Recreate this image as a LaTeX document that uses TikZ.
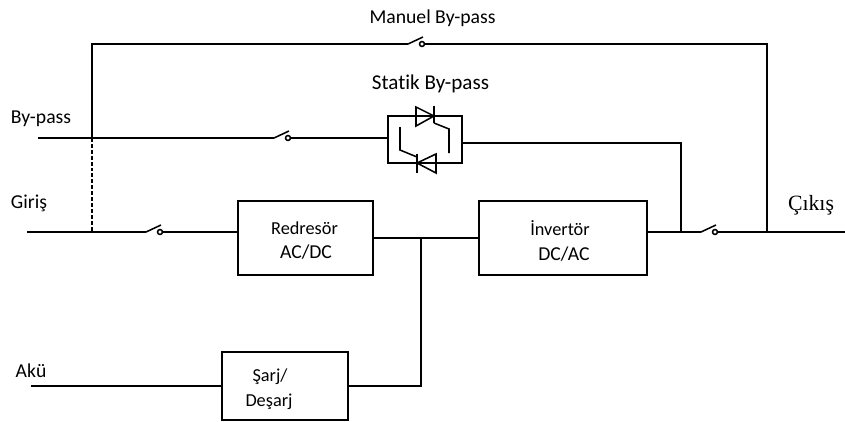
\documentclass[tikz,border=0pt]{standalone}
\usepackage{fontspec}
\setmainfont{Carlito}[RawFeature={-liga}]
\newfontfamily\serifcikis{Liberation Serif}
\usepackage{tikz}
\usetikzlibrary{positioning, calc}

\tikzset{
  wire/.style={line width=1.1pt, black},
  blockbox/.style={draw=black, line width=1.1pt, minimum width=135*0.025cm, minimum height=74*0.025cm, inner sep=0pt},
  lbl/.style={font=\fontsize{14}{16}\selectfont, inner sep=0pt},
  lblsmall/.style={font=\fontsize{13}{15}\selectfont, inner sep=0pt},
  contact/.style={circle, draw=black, line width=1.1pt, fill=white, minimum size=3.5pt, inner sep=0pt}
}

\begin{document}
\begin{tikzpicture}[x=0.025cm, y=-0.025cm]
  \useasboundingbox (0,0) rectangle (845,421);

  % Blocks
  \node[blockbox] (redresor) at (305.5,238) {};
  \node[blockbox, minimum width=168*0.025cm] (invertor) at (563,238) {};
  \node[blockbox, minimum width=126*0.025cm, minimum height=68*0.025cm] (sarj) at (285,386) {};
  \node[draw=black, line width=1.1pt, minimum width=74*0.025cm, minimum height=47*0.025cm, inner sep=0pt] (statik) at (425,139.5) {};

  % Labels
  \node[lbl] (manuel) at (432.5,18) {Manuel By-pass};
  \node[lbl, font=\fontsize{15}{17}\selectfont] (statiklbl) at (430.5,84) {Statik By-pass};
  \node[lbl] (bypasslbl) at (41,119) {By-pass};
  \node[lbl] (girislbl) at (29,203) {Giriş};
  \node[lbl] (akulbl) at (31,371) {Akü};
  \node[lbl, font=\serifcikis\fontsize{15.5}{17}\selectfont] (cikislbl) at (811,205) {Çıkış};
  \node[lblsmall] (redresorlbl) at (304.5,228) {Redresör};
  \node[lbl] (acdclbl) at (306,252) {AC/DC};
  \node[lblsmall] (invertorlbl) at (560,228) {İnvertör};
  \node[lbl] (dcaclbl) at (564,254) {DC/AC};
  \node[lblsmall] (sarjlbl) at (270,377) {Şarj/};
  \node[lblsmall] (desarjlbl) at (269,402) {Deşarj};

  % Junctions and free ends
  \coordinate (tl) at (92,44);
  \coordinate (tr) at (767,44);
  \coordinate (byin) at (38,138);
  \coordinate (bydrop) at (92,138);
  \coordinate (girin) at (27,232);
  \coordinate (girdrop) at (92,232);
  \coordinate (out) at (845,232);
  \coordinate (outj) at (767,232);
  \coordinate (stj) at (681,232);
  \coordinate (dcj) at (421,238);
  \coordinate (akuin) at (31,386);

  % Switches
  \foreach \nm/\x/\y in {sa/422/44, sb/288/138, sc/160/232, sd/715/232}{
    \node[contact] (\nm) at (\x,\y) {};
    \coordinate (\nm in) at (\x-14,\y);
    \draw[wire] (\nm in) -- ++(15,-7);
  }

  % Wiring
  \draw[wire] (bydrop) -- (tl) -- (sain);
  \draw[wire] (sa) -- (tr) -- (outj);
  \draw[wire, dash pattern=on 2.8pt off 1.4pt] (bydrop) -- (girdrop);
  \draw[wire] (byin) -- (sbin);
  \draw[wire] (sb) -- (sb -| statik.west);
  \draw[wire] (girin) -- (scin);
  \draw[wire] (sc) -- (sc -| redresor.west);
  \draw[wire] (redresor.east) -- (invertor.west);
  \draw[wire] (akuin) -- (sarj.west);
  \draw[wire] (sarj.east) -- (sarj.east -| dcj) -- (dcj);
  \draw[wire] (invertor.east |- stj) -- (sdin);
  \draw[wire] (sd) -- (out);
  \draw[wire] (statik.east |- 0,143) -- (681,143) -- (stj);

  % Thyristors
  \draw[wire] (416,107) -- (416,126) -- (434,116) -- cycle;
  \draw[wire] (434,106) -- (434,123);
  \draw[wire] (434,123) -- (449,129) -- (449,153);
  \draw[wire] (417,163) -- (436,154) -- (436,173) -- cycle;
  \draw[wire] (417,154) -- (417,173);
  \draw[wire] (417,157) -- (400,150) -- (400,127);
\end{tikzpicture}
\end{document}
